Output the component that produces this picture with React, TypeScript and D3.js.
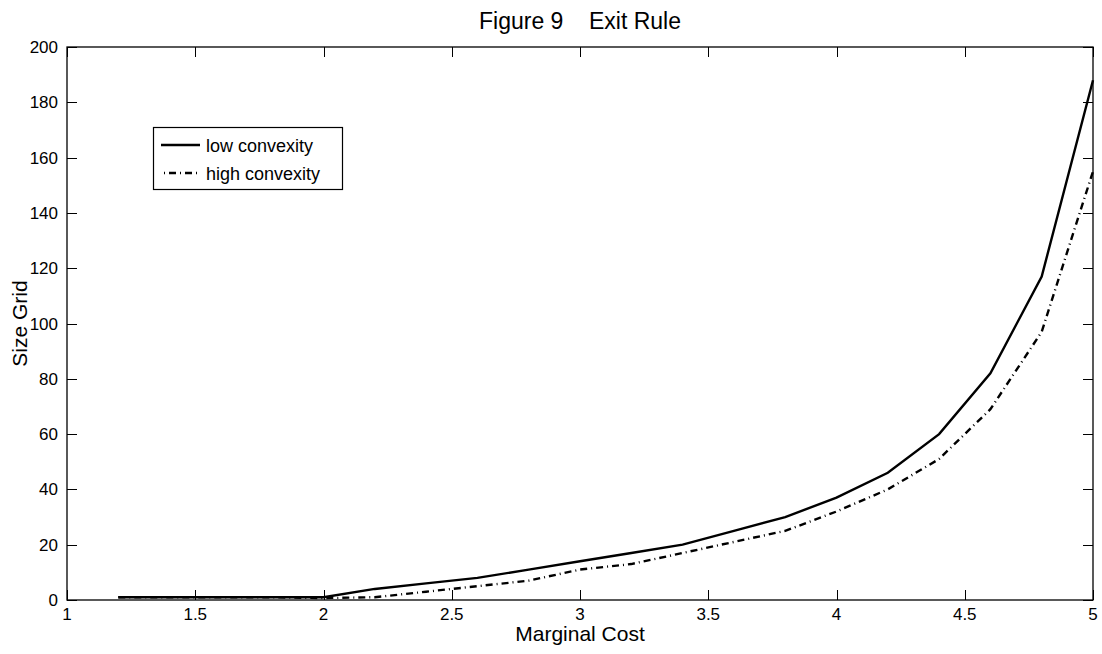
import { useEffect, useRef } from 'react'
import * as d3 from 'd3'

const WIDTH = 1102
const HEIGHT = 654
const MARGIN = { top: 47, right: 9, bottom: 54, left: 67 }

const marginalCost = [1.2, 1.4, 1.6, 1.8, 2.0, 2.2, 2.4, 2.6, 2.8, 3.0, 3.2, 3.4, 3.6, 3.8, 4.0, 4.2, 4.4, 4.6, 4.8, 5.0]
const lowConvexity = [1, 1, 1, 1, 1, 4, 6, 8, 11, 14, 17, 20, 25, 30, 37, 46, 60, 82, 117, 188]
const highConvexity = [1, 1, 1, 1, 0.7, 1, 3, 5, 7, 11, 13, 17, 21, 25, 32, 40, 51, 69, 97, 155]
const xTicks = [1, 1.5, 2, 2.5, 3, 3.5, 4, 4.5, 5]
const yTicks = [0, 20, 40, 60, 80, 100, 120, 140, 160, 180, 200]
const seriesNames = ['low convexity', 'high convexity']

const FONT = 'Liberation Sans, Arial, Helvetica, sans-serif'
const DASH_DOT = '7,4,1,4'

export default function App() {
    const svgRef = useRef<SVGSVGElement | null>(null)

    useEffect(() => {
        const svg = d3.select(svgRef.current)
        svg.selectAll('*').remove()

        const x0 = MARGIN.left
        const x1 = WIDTH - MARGIN.right
        const y0 = HEIGHT - MARGIN.bottom
        const y1 = MARGIN.top

        const x = d3.scaleLinear().domain([1, 5]).range([x0, x1])
        const y = d3.scaleLinear().domain([0, 200]).range([y0, y1])

        svg.append('rect')
            .attr('width', WIDTH).attr('height', HEIGHT).attr('fill', '#fff')

        // ticks pointing inward on all four sides
        const tickLen = 10
        const g = svg.append('g').attr('stroke', '#000').attr('stroke-width', 1)
        xTicks.forEach(t => {
            const px = Math.round(x(t)) + 0.5
            g.append('line').attr('x1', px).attr('x2', px).attr('y1', y0).attr('y2', y0 - tickLen)
            g.append('line').attr('x1', px).attr('x2', px).attr('y1', y1).attr('y2', y1 + tickLen)
        })
        yTicks.forEach(t => {
            const py = Math.round(y(t)) + 0.5
            g.append('line').attr('x1', x0).attr('x2', x0 + tickLen).attr('y1', py).attr('y2', py)
            g.append('line').attr('x1', x1).attr('x2', x1 - tickLen).attr('y1', py).attr('y2', py)
        })

        // series
        const line = d3.line<number>()
            .x((d, i) => x(marginalCost[i]))
            .y(d => y(d))
        svg.append('path')
            .datum(lowConvexity)
            .attr('d', line)
            .attr('fill', 'none')
            .attr('stroke', '#000')
            .attr('stroke-width', 2.4)
        svg.append('path')
            .datum(highConvexity)
            .attr('d', line)
            .attr('fill', 'none')
            .attr('stroke', '#000')
            .attr('stroke-width', 2.4)
            .attr('stroke-dasharray', DASH_DOT)

        // box
        svg.append('rect')
            .attr('x', x0).attr('y', y1)
            .attr('width', x1 - x0).attr('height', y0 - y1)
            .attr('fill', 'none').attr('stroke', '#000').attr('stroke-width', 1.3)

        // tick labels
        svg.append('g')
            .selectAll('text')
            .data(xTicks)
            .enter()
            .append('text')
            .attr('x', d => x(d))
            .attr('y', y0 + 20)
            .attr('text-anchor', 'middle')
            .attr('font-family', FONT)
            .attr('font-size', 17)
            .text(d => String(d))
        svg.append('g')
            .selectAll('text')
            .data(yTicks)
            .enter()
            .append('text')
            .attr('x', x0 - 9)
            .attr('y', d => y(d) + 6)
            .attr('text-anchor', 'end')
            .attr('font-family', FONT)
            .attr('font-size', 17)
            .text(d => String(d))

        // titles
        svg.append('text')
            .attr('x', (x0 + x1) / 2).attr('y', 29)
            .attr('text-anchor', 'middle')
            .attr('font-family', FONT).attr('font-size', 23)
            .style('white-space', 'pre')
            .text('Figure 9    Exit Rule')
        svg.append('text')
            .attr('x', (x0 + x1) / 2).attr('y', 641)
            .attr('text-anchor', 'middle')
            .attr('font-family', FONT).attr('font-size', 21)
            .text('Marginal Cost')
        svg.append('text')
            .attr('transform', `translate(27,${(y0 + y1) / 2}) rotate(-90)`)
            .attr('text-anchor', 'middle')
            .attr('font-family', FONT).attr('font-size', 21)
            .text('Size Grid')

        // legend
        const lg = svg.append('g').attr('transform', 'translate(153,127)')
        lg.append('rect')
            .attr('x', 0.5).attr('y', 0.5).attr('width', 189).attr('height', 62)
            .attr('fill', '#fff').attr('stroke', '#000').attr('stroke-width', 1.2)
        seriesNames.forEach((name, i) => {
            const ly = 18 + i * 28
            lg.append('line')
                .attr('x1', 8).attr('x2', 47).attr('y1', ly).attr('y2', ly)
                .attr('stroke', '#000').attr('stroke-width', 2.4)
                .attr('stroke-dasharray', i === 1 ? DASH_DOT : null)
                .attr('stroke-dashoffset', i === 1 ? 8 : 0)
            lg.append('text')
                .attr('x', 53).attr('y', ly + 6.5)
                .attr('font-family', FONT).attr('font-size', 18)
                .text(name)
        })
    }, [])

    return (
        <svg
            ref={svgRef}
            width={WIDTH}
            height={HEIGHT}
            style={{ position: 'absolute', left: 0, top: 0, display: 'block' }}
        />
    )
}
